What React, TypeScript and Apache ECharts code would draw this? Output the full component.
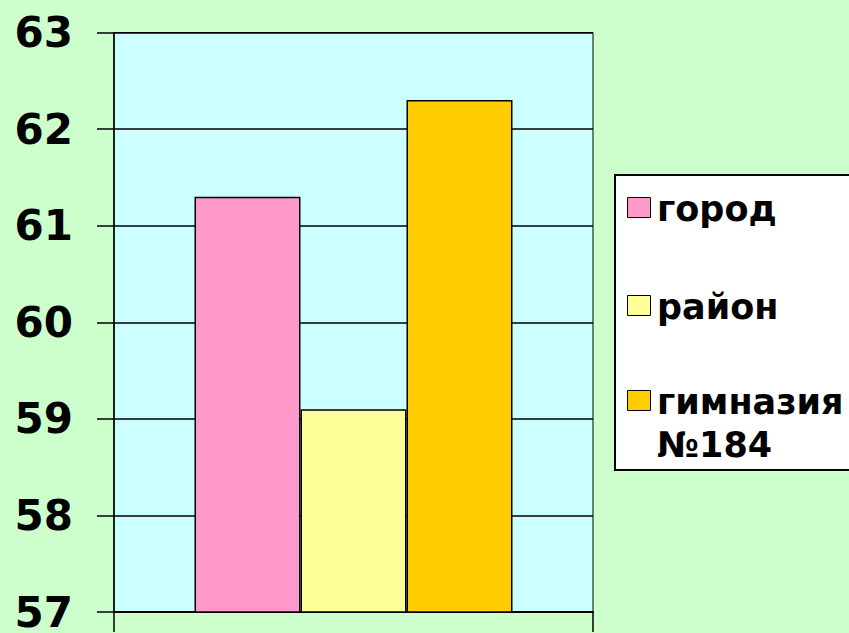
import React, { useEffect, useRef } from "react";
import * as echarts from "echarts";

const categories = [""];
const seriesNames = ["город", "район", "гимназия №184"];
const seriesValues = [61.3, 59.1, 62.3];
const seriesColors = ["#ff99cc", "#ffff99", "#ffcc00"];
const yTicks = { min: 57, max: 63, interval: 1 };

const FONT = "'DejaVu Sans', Verdana, sans-serif";

export default function App() {
  const ref = useRef<HTMLDivElement>(null);
  useEffect(() => {
    document.body.style.margin = "0";
    if (!ref.current) return;
    const chart = echarts.init(ref.current, undefined, { renderer: "svg" });

    const legendTops = [197, 295, 390];
    const legendGraphics: any[] = [
      {
        type: "rect",
        shape: { x: 615, y: 175, width: 260, height: 295 },
        style: { fill: "#ffffff", stroke: "#000000", lineWidth: 2 },
        z: 10,
      },
    ];
    seriesNames.forEach((name, i) => {
      legendGraphics.push({
        type: "rect",
        shape: { x: 627.5, y: legendTops[i] + 0.5, width: 23, height: 20 },
        style: { fill: seriesColors[i], stroke: "#000000", lineWidth: 1 },
        z: 11,
      });
      legendGraphics.push({
        type: "text",
        x: 657,
        y: legendTops[i] - 10,
        style: {
          text: name.replace(" ", "\n"),
          font: `bold 35px ${FONT}`,
          fill: "#000000",
          lineHeight: 43,
          verticalAlign: "top",
          align: "left",
        },
        z: 11,
      });
    });

    chart.setOption({
      animation: false,
      backgroundColor: "#ccffcc",
      grid: {
        left: 114,
        right: 256,
        top: 32.5,
        bottom: 19,
        show: true,
        backgroundColor: "#ccffff",
        borderColor: "#000000",
        borderWidth: 1,
      },
      xAxis: {
        type: "category",
        data: categories,
        axisLine: { show: true, lineStyle: { color: "#000000", width: 2 } },
        axisTick: { show: true, length: 20, lineStyle: { color: "#000000", width: 1.5 } },
        axisLabel: { show: false },
        splitLine: { show: false },
      },
      yAxis: {
        type: "value",
        min: yTicks.min,
        max: yTicks.max,
        interval: yTicks.interval,
        axisLine: { show: true, lineStyle: { color: "#000000", width: 1.5 } },
        axisTick: { show: true, length: 17, lineStyle: { color: "#000000", width: 1.5 } },
        splitLine: { show: true, lineStyle: { color: "#000000", width: 1.5 } },
        axisLabel: {
          color: "#000000",
          fontFamily: FONT,
          fontWeight: "bold",
          fontSize: 42,
          margin: 41,
          padding: [0, 0, 6, 0],
        },
      },
      series: seriesNames.map((name, i) => ({
        name,
        type: "bar",
        data: [seriesValues[i]],
        barWidth: 106,
        barGap: "0%",
        itemStyle: { color: seriesColors[i], borderColor: "#000000", borderWidth: 1.5 },
      })),
      graphic: legendGraphics,
    });
    return () => chart.dispose();
  }, []);
  return (
    <div
      ref={ref}
      style={{ width: 849, height: 633, position: "absolute", left: 0, top: 0 }}
    />
  );
}
